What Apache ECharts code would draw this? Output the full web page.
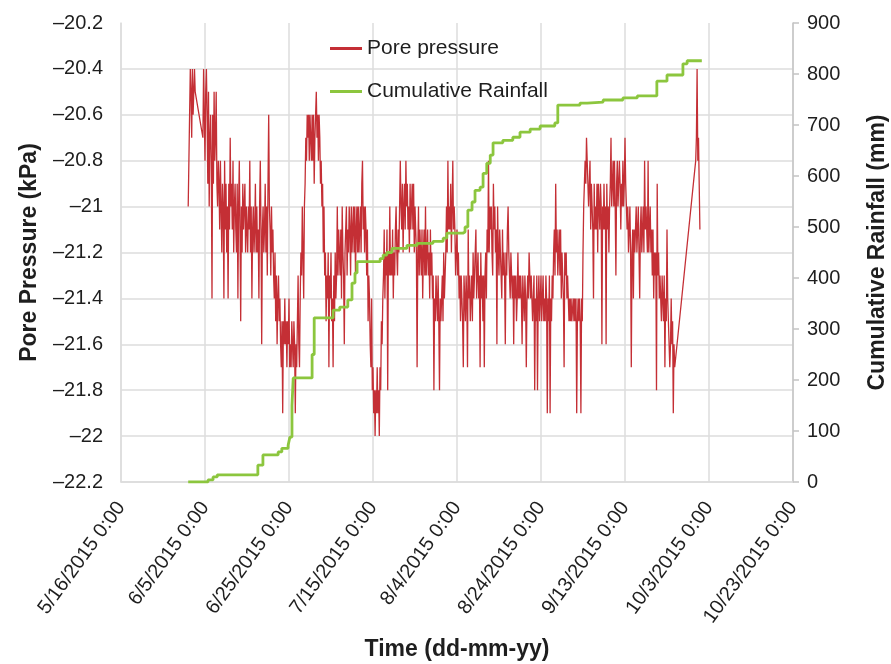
<!DOCTYPE html>
<html>
<head>
<meta charset="utf-8">
<title>Pore pressure and cumulative rainfall</title>
<script src="https://cdn.jsdelivr.net/npm/echarts@6/dist/echarts.min.js"></script>
<style>
  html, body { margin: 0; padding: 0; background: #ffffff; }
  #chart { width: 891px; height: 664px; }
</style>
</head>
<body>
<div id="chart"></div>
<script>
// Time axis origin and its tick labels (one every 20 days)
const axisOrigin = '2015-05-16T00:00Z';
const dateTickLabels = [
  '5/16/2015 0:00', '6/5/2015 0:00', '6/25/2015 0:00', '7/15/2015 0:00',
  '8/4/2015 0:00', '8/24/2015 0:00', '9/13/2015 0:00', '10/3/2015 0:00',
  '10/23/2015 0:00'
];

// Pore pressure readings (kPa), logged every 4 hours, in three runs
const poreStepHours = 4;
const poreStartA = '2015-06-01T00:00Z';
const porePressureA = [-21.0, -20.8, -20.6, -20.4, -20.5, -20.7, -20.4, -20.6, -20.5, -20.4, -20.5];

// one row per day, starting 6/4 12:00
const poreStartB = '2015-06-04T12:00Z';
const porePressureB = [
  -20.7,-20.4,-20.6,-20.8,-20.5,-20.4,
  -20.6,-20.9,-20.5,-21.0,-20.7,-20.6,
  -20.8,-21.4,-20.6,-20.9,-20.5,-20.8,
  -20.7,-20.5,-20.9,-21.0,-20.8,-20.9,
  -21.1,-20.8,-21.0,-21.2,-20.9,-21.0,
  -21.4,-20.8,-21.1,-20.9,-21.2,-21.0,
  -21.4,-20.9,-21.1,-20.7,-21.0,-20.9,
  -21.1,-20.8,-21.2,-21.0,-20.9,-21.1,
  -21.2,-20.9,-21.4,-21.0,-20.8,-21.1,
  -21.5,-21.0,-21.2,-20.9,-21.1,-21.0,
  -20.9,-21.2,-21.0,-21.1,-21.2,-21.0,
  -21.1,-20.8,-21.2,-21.0,-21.4,-21.1,
  -21.0,-21.2,-21.1,-20.9,-21.2,-21.0,
  -21.2,-21.1,-21.4,-21.0,-20.8,-21.1,
  -21.6,-21.1,-21.0,-21.2,-21.1,-20.9,
  -21.2,-21.0,-21.3,-20.9,-20.6,-21.0,
  -21.1,-21.3,-21.0,-21.2,-21.1,-21.3,
  -21.4,-21.2,-21.5,-21.3,-21.6,-21.4,
  -21.3,-21.5,-21.4,-21.6,-21.7,-21.5,
  -21.9,-21.5,-21.6,-21.4,-21.6,-21.5,
  -21.7,-21.5,-21.6,-21.4,-21.7,-21.6,
  -21.7,-21.5,-21.6,-21.7,-21.5,-21.6,
  -21.9,-21.6,-21.7,-21.5,-21.3,-21.6,
  -21.7,-21.4,-21.2,-21.3,-21.0,-21.2,
  -21.4,-21.0,-20.9,-20.7,-20.8,-20.6,
  -20.7,-20.6,-20.8,-20.6,-20.7,-20.8,
  -20.6,-20.8,-20.6,-20.9,-20.7,-20.6,
  -20.5,-20.7,-20.6,-20.8,-20.6,-20.7,
  -20.9,-20.8,-21.0,-20.9,-21.2,-21.0,
  -21.3,-21.2,-21.5,-21.3,-21.4,-21.2,
  -21.7,-21.3,-21.4,-21.2,-21.5,-21.4,
  -21.7,-21.3,-21.5,-21.2,-21.4,-21.3,
  -21.0,-21.3,-21.1,-21.2,-21.3,-21.1,
  -21.4,-21.0,-21.2,-21.3,-21.6,-21.2,
  -21.2,-21.0,-21.3,-21.1,-21.2,-21.0,
  -21.1,-21.3,-21.0,-21.2,-21.1,-21.0,
  -21.2,-21.0,-21.3,-21.1,-21.0,-21.2,
  -21.0,-21.2,-21.1,-21.0,-21.2,-20.9,
  -20.8,-21.1,-21.0,-21.2,-21.0,-21.1,
  -21.3,-21.1,-21.5,-21.3,-21.4,-21.6,
  -21.7,-21.4,-21.8,-21.7,-21.9,-21.8,
  -22.0,-21.8,-21.9,-21.7,-21.9,-21.8,
  -22.0,-21.7,-21.8,-21.5,-21.6,-21.4,
  -21.3,-21.1,-21.4,-21.2,-21.3,-21.1,
  -21.8,-21.2,-21.3,-21.0,-21.3,-21.2,
  -21.3,-21.1,-21.4,-21.2,-21.3,-21.1,
  -21.0,-21.2,-21.3,-21.1,-21.2,-21.0,
  -20.8,-21.0,-21.1,-20.9,-21.2,-21.0,
  -20.9,-21.1,-20.8,-21.0,-20.9,-21.1,
  -21.0,-21.2,-20.9,-21.1,-21.0,-20.9,
  -21.1,-20.9,-21.2,-21.0,-21.1,-21.2,
  -21.7,-21.2,-21.0,-21.3,-21.1,-21.2,
  -21.3,-21.1,-21.4,-21.2,-21.1,-21.3,
  -21.0,-21.3,-21.2,-21.1,-21.3,-21.2,
  -21.4,-21.1,-21.3,-21.2,-21.4,-21.3,
  -21.8,-21.4,-21.5,-21.3,-21.4,-21.5,
  -21.3,-21.5,-21.8,-21.4,-21.5,-21.4,
  -21.3,-21.5,-21.2,-21.4,-21.3,-21.2,
  -21.0,-21.2,-20.8,-21.1,-21.0,-21.1,
  -20.9,-21.2,-21.0,-20.8,-21.1,-21.0,
  -21.1,-21.3,-21.2,-21.1,-21.3,-21.2,
  -21.4,-21.3,-21.5,-21.3,-21.4,-21.5,
  -21.7,-21.3,-21.4,-21.5,-21.3,-21.4,
  -21.7,-21.1,-21.4,-21.3,-21.5,-21.4,
  -21.3,-21.5,-21.2,-21.4,-21.3,-21.2,
  -21.1,-21.4,-21.3,-21.2,-21.4,-21.3,
  -21.7,-21.2,-21.4,-21.3,-21.5,-21.3,
  -21.7,-21.3,-21.2,-21.4,-21.1,-21.2,
  -20.8,-21.2,-21.0,-21.1,-21.0,-21.2,
  -21.3,-20.9,-21.1,-21.0,-21.2,-21.1,
  -21.6,-21.0,-21.2,-21.3,-21.1,-21.2,
  -21.2,-21.4,-21.1,-21.3,-21.2,-21.3,
  -21.6,-21.2,-21.3,-21.1,-21.0,-21.2,
  -21.3,-21.4,-21.2,-21.3,-21.4,-21.3,
  -21.6,-21.3,-21.4,-21.3,-21.5,-21.4,
  -21.2,-21.4,-21.3,-21.4,-21.3,-21.4,
  -21.6,-21.3,-21.4,-21.5,-21.3,-21.4,
  -21.7,-21.4,-21.3,-21.4,-21.2,-21.3,
  -21.4,-21.3,-21.4,-21.5,-21.4,-21.3,
  -21.8,-21.4,-21.5,-21.3,-21.8,-21.4,
  -21.3,-21.5,-21.4,-21.3,-21.5,-21.4,
  -21.3,-21.5,-21.4,-21.5,-21.3,-21.4,
  -21.9,-21.4,-21.5,-21.3,-21.9,-21.4,
  -21.5,-21.3,-21.4,-21.2,-21.1,-21.3,
  -20.9,-21.2,-21.1,-21.3,-21.2,-21.1,
  -21.3,-21.1,-21.4,-21.2,-21.3,-21.4,
  -21.7,-21.2,-21.3,-21.2,-21.4,-21.3,
  -21.4,-21.5,-21.4,-21.5,-21.4,-21.5,
  -21.5,-21.4,-21.5,-21.4,-21.5,-21.4,
  -21.9,-21.5,-21.4,-21.5,-21.4,-21.5,
  -21.9,-21.4,-21.5,-21.2,-21.0,-20.9,
  -20.8,-20.9,-20.7,-20.8,-20.9,-21.0,
  -21.0,-20.8,-21.1,-20.9,-21.0,-21.1,
  -21.4,-20.9,-21.1,-21.0,-21.1,-20.9,
  -21.2,-20.9,-21.0,-21.1,-20.9,-21.0,
  -21.6,-21.0,-21.1,-20.9,-21.1,-21.0,
  -21.6,-20.9,-21.1,-21.0,-21.2,-21.0,
  -20.9,-20.7,-21.0,-20.9,-20.8,-21.0,
  -20.8,-21.0,-21.3,-20.9,-20.8,-21.0,
  -21.0,-20.8,-20.9,-21.1,-20.9,-21.0,
  -20.8,-21.0,-20.9,-20.7,-20.9,-21.0,
  -21.1,-21.0,-21.2,-21.1,-21.0,-21.2,
  -21.7,-21.2,-21.1,-21.4,-21.1,-21.2,
  -21.1,-21.0,-21.2,-21.1,-21.0,-21.2,
  -21.4,-21.1,-21.0,-21.2,-21.1,-21.0,
  -21.2,-20.8,-21.1,-21.0,-21.1,-21.2,
  -20.8,-21.2,-21.1,-21.0,-21.2,-21.1,
  -21.3,-21.1,-21.4,-21.2,-21.3,-21.2,
  -21.8,-20.9,-21.3,-21.2,-21.4,-21.3,
  -21.4,-21.5,-21.3,-21.4,-21.5,-21.3,
  -21.7,-21.4,-21.5,-21.1,-21.4,-21.5,
  -21.5,-21.7,-21.6,-21.4,-21.6,-21.5,
  -21.9,-21.6,-21.7
];

const poreStartC = '2015-09-29T20:00Z';
const porePressureC = [-20.8, -20.7, -20.4, -20.8, -20.7, -20.9, -21.1];

// Cumulative rainfall (mm): time of each change and the running total
const rainTimes = [
  '2015-06-01T00:00Z', '2015-06-05T17:00Z', '2015-06-06T22:00Z', '2015-06-07T22:00Z',
  '2015-06-17T14:00Z', '2015-06-18T19:00Z', '2015-06-22T10:00Z', '2015-06-23T07:00Z',
  '2015-06-24T19:00Z', '2015-06-25T05:00Z', '2015-06-25T17:00Z', '2015-06-26T00:00Z',
  '2015-06-30T12:00Z', '2015-07-01T00:00Z', '2015-07-05T12:00Z', '2015-07-07T02:00Z',
  '2015-07-09T00:00Z', '2015-07-10T00:00Z', '2015-07-10T17:00Z', '2015-07-11T05:00Z',
  '2015-07-16T17:00Z', '2015-07-17T10:00Z', '2015-07-18T07:00Z', '2015-07-19T12:00Z',
  '2015-07-23T02:00Z', '2015-07-25T12:00Z', '2015-07-29T07:00Z', '2015-07-31T17:00Z',
  '2015-08-01T14:00Z', '2015-08-05T10:00Z', '2015-08-05T22:00Z', '2015-08-06T14:00Z',
  '2015-08-07T14:00Z', '2015-08-08T07:00Z', '2015-08-09T12:00Z', '2015-08-10T05:00Z',
  '2015-08-11T02:00Z', '2015-08-11T22:00Z', '2015-08-12T14:00Z', '2015-08-14T22:00Z',
  '2015-08-17T07:00Z', '2015-08-19T00:00Z', '2015-08-21T10:00Z', '2015-08-23T19:00Z',
  '2015-08-27T07:00Z', '2015-08-28T00:00Z', '2015-09-02T07:00Z', '2015-09-04T00:00Z',
  '2015-09-07T19:00Z', '2015-09-12T12:00Z', '2015-09-15T22:00Z', '2015-09-20T14:00Z',
  '2015-09-23T00:00Z', '2015-09-26T19:00Z', '2015-09-27T19:00Z', '2015-10-01T07:00Z'
];
const rainTotals = [
  0, 4, 10, 14,
  33, 53, 59, 66,
  72, 88, 150, 204,
  250, 322, 337, 343,
  357, 390, 410, 432,
  438, 445, 450, 458,
  464, 468, 472, 478,
  488, 490, 500, 533,
  549, 572, 578, 605,
  625, 641, 665, 670,
  676, 686, 692, 698,
  704, 739, 743, 745,
  749, 753, 757, 786,
  798, 820, 826, 826
];

const DAY_MS = 86400000;
const originMs = Date.parse(axisOrigin);
const toDay = iso => (Date.parse(iso) - originMs) / DAY_MS;

function runToPoints(startIso, values) {
  const d0 = toDay(startIso);
  return values.map((v, i) => [d0 + i * poreStepHours / 24, v]);
}

const poreData = [].concat(
  runToPoints(poreStartA, porePressureA),
  runToPoints(poreStartB, porePressureB),
  runToPoints(poreStartC, porePressureC)
);
const rainData = rainTimes.map((t, i) => [toDay(t), rainTotals[i]]);

const FONT = '"Liberation Sans", Arial, Helvetica, sans-serif';
const TEXT = '#1e1e1e';
const GRID = '#dcdcdc';
const RED = '#c42f35';
const GREEN = '#8cc63e';

const fmtPressure = v => {
  const r = Math.round(v * 10) / 10;
  return String(r).replace('-', '\u2013');
};

const chart = echarts.init(document.getElementById('chart'), null, { renderer: 'canvas' });
chart.setOption({
  animation: false,
  backgroundColor: '#ffffff',
  textStyle: { fontFamily: FONT },
  grid: { left: 121, right: 98, top: 23, bottom: 182, containLabel: false, outerBoundsMode: 'none' },
  legend: {
    data: [
      { name: 'Pore pressure', icon: 'rect' },
      { name: 'Cumulative Rainfall', icon: 'rect' }
    ],
    orient: 'vertical',
    left: 325,
    top: 33,
    itemWidth: 32,
    itemHeight: 3,
    itemGap: 22,
    textStyle: { fontSize: 21, color: TEXT, fontFamily: FONT }
  },
  xAxis: {
    type: 'value',
    min: 0,
    max: 160,
    interval: 20,
    name: 'Time (dd-mm-yy)',
    nameLocation: 'middle',
    nameGap: 156,
    nameTextStyle: { fontSize: 23, fontWeight: 'bold', color: TEXT, fontFamily: FONT },
    axisLine: { show: true, onZero: false, lineStyle: { color: GRID, width: 1.5 } },
    axisTick: { show: false },
    axisLabel: {
      rotate: 54,
      margin: 22,
      fontSize: 20,
      color: TEXT,
      fontFamily: FONT,
      formatter: v => dateTickLabels[Math.round(v / 20)] || ''
    },
    splitLine: { show: true, lineStyle: { color: GRID, width: 1.5 } }
  },
  yAxis: [
    {
      type: 'value',
      position: 'left',
      min: -22.2,
      max: -20.2,
      interval: 0.2,
      name: 'Pore Pressure (kPa)',
      nameLocation: 'middle',
      nameRotate: 90,
      nameGap: 80,
      nameTextStyle: { fontSize: 23, fontWeight: 'bold', color: TEXT, fontFamily: FONT },
      axisLine: { show: true, onZero: false, lineStyle: { color: GRID, width: 1.5 } },
      axisTick: { show: false },
      axisLabel: { fontSize: 20, color: TEXT, margin: 18, fontFamily: FONT, formatter: fmtPressure },
      splitLine: { show: true, showMaxLine: false, lineStyle: { color: GRID, width: 1.5 } }
    },
    {
      type: 'value',
      position: 'right',
      min: 0,
      max: 900,
      interval: 100,
      name: 'Cumulative Rainfall (mm)',
      nameLocation: 'middle',
      nameRotate: 90,
      nameGap: 73,
      nameTextStyle: { fontSize: 23, fontWeight: 'bold', color: TEXT, fontFamily: FONT },
      axisLine: { show: true, onZero: false, lineStyle: { color: '#c4c4c4', width: 1.5 } },
      axisTick: { show: true, length: 6, lineStyle: { color: '#c4c4c4', width: 1.5 } },
      axisLabel: { fontSize: 20, color: TEXT, margin: 14, fontFamily: FONT },
      splitLine: { show: false }
    }
  ],
  series: [
    {
      name: 'Pore pressure',
      type: 'line',
      yAxisIndex: 0,
      data: poreData,
      symbol: 'none',
      lineStyle: { color: RED, width: 1.3 },
      itemStyle: { color: RED },
      z: 2
    },
    {
      name: 'Cumulative Rainfall',
      type: 'line',
      yAxisIndex: 1,
      data: rainData,
      step: 'end',
      symbol: 'none',
      lineStyle: { color: GREEN, width: 2.8 },
      itemStyle: { color: GREEN },
      z: 3
    }
  ]
});
</script>
</body>
</html>
